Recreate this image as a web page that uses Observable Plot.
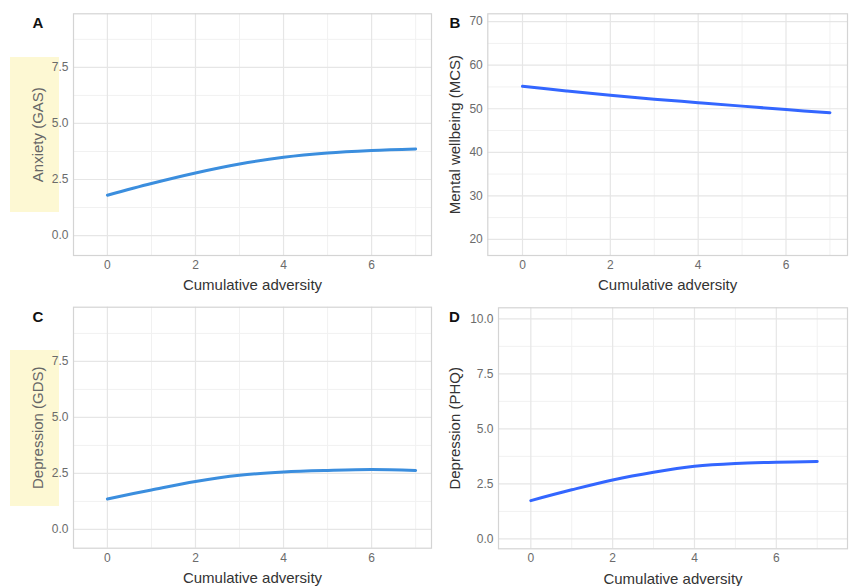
<!DOCTYPE html>
<html>
<head>
<meta charset="utf-8">
<script src="https://cdn.jsdelivr.net/npm/d3@7"></script>
<script src="https://cdn.jsdelivr.net/npm/@observablehq/plot@0.6"></script>
<style>
  body { margin: 0; background: #fff; }
  #wrap { position: relative; width: 857px; height: 586px; overflow: hidden; font-family: "Liberation Sans", Arial, sans-serif; }
  .hl { position: absolute; background: #fdf8d3; }
  .panel { position: absolute; }
  .panel svg { background: transparent !important; }
</style>
</head>
<body>
<div id="wrap">
  <div class="hl" style="left:10px;top:57px;width:49px;height:155px"></div>
  <div class="hl" style="left:10px;top:350px;width:49px;height:156px"></div>
</div>
<script>
// ---- data ----
const adversity = [0, 1, 2, 3, 4, 5, 6, 7];
const anxietyGAS = [1.80, 2.32, 2.79, 3.19, 3.49, 3.68, 3.79, 3.86];
const wellbeingMCS = [55.15, 54.1, 53.1, 52.2, 51.4, 50.6, 49.8, 49.1];
const depressionGDS = [1.36, 1.76, 2.14, 2.42, 2.56, 2.63, 2.67, 2.63];
const depressionPHQ = [1.74, 2.23, 2.68, 3.03, 3.30, 3.43, 3.48, 3.52];

const panelLetters = ["A", "B", "C", "D"];
const yLabels = ["Anxiety (GAS)", "Mental wellbeing (MCS)", "Depression (GDS)", "Depression (PHQ)"];
const xLabel = "Cumulative adversity";

const xTicks = [0, 2, 4, 6];
const xMinor = [1, 3, 5, 7];
const yTicksA = [0, 2.5, 5, 7.5];
const yMinorA = [1.25, 3.75, 6.25, 8.75];
const yTicksB = [20, 30, 40, 50, 60, 70];
const yMinorB = [25, 35, 45, 55, 65];
const yTicksD = [0, 2.5, 5, 7.5, 10];
const yMinorD = [1.25, 3.75, 6.25, 8.75];

// ---- panels ----
const panels = [
  {letter: panelLetters[0], ylab: yLabels[0], values: anxietyGAS, color: "#3b8ede",
   left: 0, top: 0, width: 432, height: 293, m: [13.3, 1, 38, 73],
   xd: [-0.77, 7.36], yd: [-0.89, 9.89], yt: yTicksA, ym: yMinorA, fmt: ".1f",
   ylabDx: -35.3, ylabColor: "#666", letDx: -35.5, letDy: 9},
  {letter: panelLetters[1], ylab: yLabels[1], values: wellbeingMCS, color: "#3366ff",
   left: 432, top: 0, width: 425, height: 293, m: [13.3, 10, 38, 55.3],
   xd: [-0.79, 7.40], yd: [16.3, 71.8], yt: yTicksB, ym: yMinorB, fmt: "d",
   ylabDx: -32.6, ylabColor: "#333", letDx: -33, letDy: 9},
  {letter: panelLetters[2], ylab: yLabels[2], values: depressionGDS, color: "#3b8ede",
   left: 0, top: 293, width: 432, height: 293, m: [13.7, 1, 38.3, 73],
   xd: [-0.77, 7.36], yd: [-0.84, 9.92], yt: yTicksA, ym: yMinorA, fmt: ".1f",
   ylabDx: -35.3, ylabColor: "#666", letDx: -35.5, letDy: 9.5},
  {letter: panelLetters[3], ylab: yLabels[3], values: depressionPHQ, color: "#3366ff",
   left: 432, top: 293, width: 425, height: 293, m: [14.3, 10, 37.7, 66],
   xd: [-0.79, 7.74], yd: [-0.45, 10.5], yt: yTicksD, ym: yMinorD, fmt: ".1f",
   ylabDx: -43.3, ylabColor: "#333", letDx: -44, letDy: 9}
];

const wrap = document.getElementById("wrap");
for (const p of panels) {
  const rows = adversity.map((a, i) => ({x: a, y: p.values[i]}));
  const chart = Plot.plot({
    width: p.width,
    height: p.height,
    marginTop: p.m[0], marginRight: p.m[1], marginBottom: p.m[2], marginLeft: p.m[3],
    style: {fontFamily: "'Liberation Sans', Arial, sans-serif", fontSize: "12px", color: "#6b6b6b", background: "transparent", overflow: "visible"},
    x: {domain: p.xd, ticks: xTicks, tickSize: 0, tickPadding: 5, label: null, tickFormat: d3.format("d")},
    y: {domain: p.yd, ticks: p.yt, tickSize: 0, tickPadding: 5, label: null, tickFormat: d3.format(p.fmt)},
    marks: [
      Plot.ruleX(xMinor, {stroke: "#f1f1f1", strokeWidth: 1}),
      Plot.ruleY(p.ym, {stroke: "#f1f1f1", strokeWidth: 1}),
      Plot.ruleX(xTicks, {stroke: "#e6e6e6", strokeWidth: 1.2}),
      Plot.ruleY(p.yt, {stroke: "#e6e6e6", strokeWidth: 1.2}),
      Plot.frame({stroke: "#d4d4d4", strokeWidth: 1.2}),
      Plot.line(rows, {x: "x", y: "y", stroke: p.color, strokeWidth: 3, curve: "catmull-rom"}),
      Plot.text([xLabel], {frameAnchor: "bottom", dy: 30, textAnchor: "middle", lineAnchor: "middle", fontSize: 15, fill: "#333", text: d => d}),
      Plot.text([p.ylab], {frameAnchor: "left", dx: p.ylabDx, rotate: -90, textAnchor: "middle", lineAnchor: "middle", fontSize: 15, fill: p.ylabColor, text: d => d}),
      Plot.text([p.letter], {frameAnchor: "top-left", dx: p.letDx, dy: p.letDy, textAnchor: "middle", lineAnchor: "middle", fontSize: 15, fontWeight: "bold", fill: "#111", text: d => d})
    ]
  });
  const holder = document.createElement("div");
  holder.className = "panel";
  holder.style.left = p.left + "px";
  holder.style.top = p.top + "px";
  holder.appendChild(chart);
  wrap.appendChild(holder);
}
</script>
</body>
</html>
